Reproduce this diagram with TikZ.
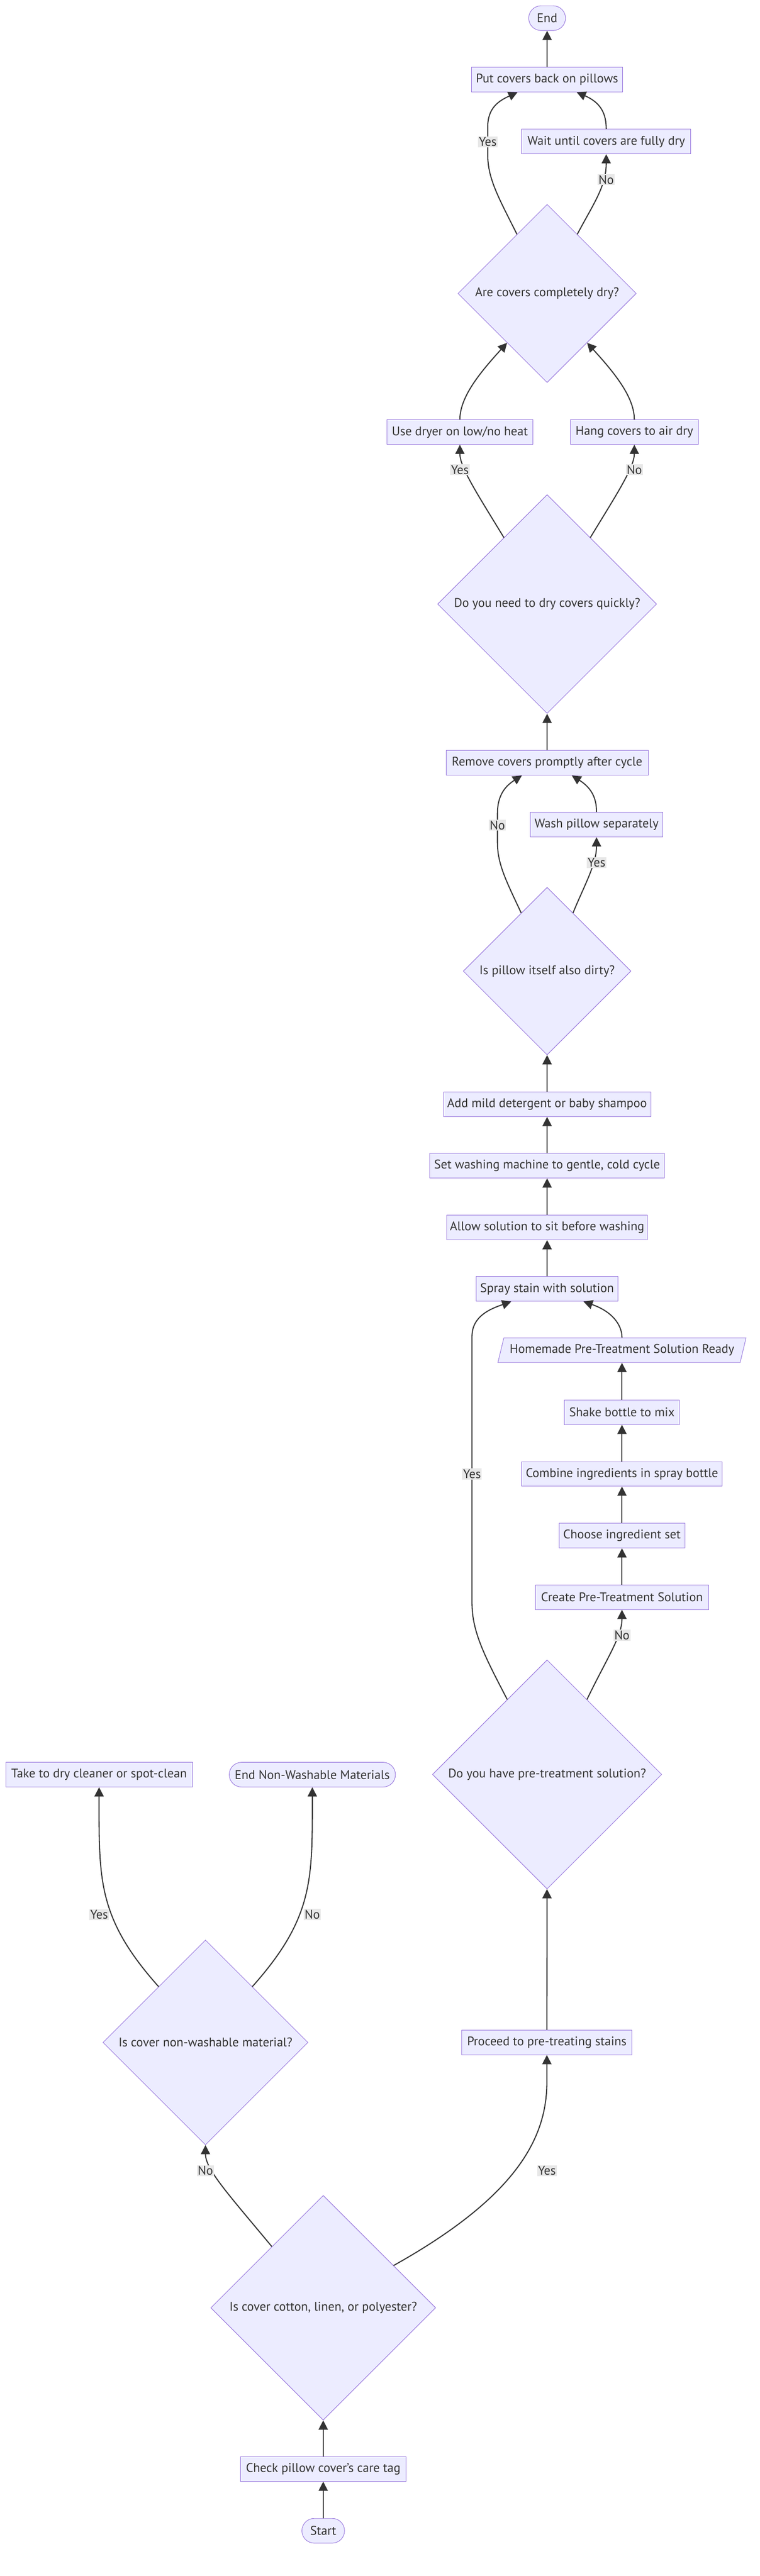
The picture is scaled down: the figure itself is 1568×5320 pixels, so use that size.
\documentclass[tikz,border=0pt]{standalone}
\usepackage{fontspec}
\setmainfont{PT Sans}
\usetikzlibrary{shapes.geometric,arrows.meta,calc}
\definecolor{nodefill}{HTML}{ECECFF}
\definecolor{nodeline}{HTML}{9370DB}
\definecolor{ink}{HTML}{333333}
\definecolor{lblbg}{HTML}{E8E8E8}

\begin{document}
\begin{tikzpicture}[x=0.5pt, y=0.5pt,
    every node/.style={text=ink, font=\fontsize{13}{15}\selectfont},
    proc/.style={rectangle, draw=nodeline, fill=nodefill, line width=0.5pt, minimum height=25.5pt, inner sep=0pt},
    term/.style={proc, rounded corners=12.75pt},
    ask/.style={diamond, aspect=1, draw=nodeline, fill=nodefill, line width=0.5pt, inner sep=0pt},
    io/.style={trapezium, trapezium left angle=64, trapezium right angle=116, trapezium stretches=true, draw=nodeline, fill=nodefill, line width=0.5pt, minimum height=25.5pt, inner sep=0pt},
    lbl/.style={fill=lblbg, inner sep=1pt},
    conn/.style={draw=ink, line width=1.1pt, -{Triangle[length=9.5pt,width=9.5pt]}}]
    \fill[white] (0,0) rectangle (1568,-5320);
    % drying part
    \node[term, minimum width=38pt] (endn) at (1129,-37.5) {End};
    \node[proc, minimum width=156pt] (putback) at (1129,-164.5) {Put covers back on pillows};
    \node[proc, minimum width=174.5pt] (waitdry) at (1251,-292.5) {Wait until covers are fully dry};
    \node[ask, minimum size=184pt] (dryq) at (1129,-606) {Are covers completely dry?};
    \node[proc, minimum width=151pt] (dryer) at (949,-892.5) {Use dryer on low/no heat};
    \node[proc, minimum width=132pt] (hang) at (1309,-892.5) {Hang covers to air dry};
    \node[ask, minimum size=226pt] (quickq) at (1129,-1247.5) {Do you need to dry covers quickly?};
    % washing part
    \node[proc, minimum width=208.5pt] (remove) at (1129,-1575.5) {Remove covers promptly after cycle};
    \node[proc, minimum width=137pt] (washp) at (1231,-1703) {Wash pillow separately};
    \node[ask, minimum size=173pt] (dirtyq) at (1129,-2005.5) {Is pillow itself also dirty?};
    \node[proc, minimum width=214pt] (detergent) at (1129,-2280.5) {Add mild detergent or baby shampoo};
    \node[proc, minimum width=242pt] (setmach) at (1129,-2407.5) {Set washing machine to gentle, cold cycle};
    \node[proc, minimum width=207pt] (allow) at (1129,-2535) {Allow solution to sit before washing};
    \node[proc, minimum width=146pt] (spray) at (1129,-2662) {Spray stain with solution};
    % pre-treatment part
    \node[io, minimum width=256.5pt] (ready) at (1283.5,-2788.5) {Homemade Pre-Treatment Solution Ready};
    \node[proc, minimum width=118.5pt] (shake) at (1283.5,-2916.5) {Shake bottle to mix};
    \node[proc, minimum width=207pt] (combine) at (1283.5,-3044) {Combine ingredients in spray bottle};
    \node[proc, minimum width=130pt] (choose) at (1283.5,-3171.5) {Choose ingredient set};
    \node[proc, minimum width=178.5pt] (create) at (1283.5,-3298.5) {Create Pre-Treatment Solution};
    \node[ask, minimum size=236.5pt] (haveq) at (1129,-3664.5) {Do you have pre-treatment solution?};
    % material check
    \node[proc, minimum width=192.5pt] (dryclean) at (204.5,-3665) {Take to dry cleaner or spot-clean};
    \node[term, minimum width=171.5pt] (endnw) at (644.5,-3665) {End Non-Washable Materials};
    \node[ask, minimum size=211.5pt] (nonwashq) at (424,-4218) {Is cover non-washable material?};
    \node[proc, minimum width=175.5pt] (proceed) at (1128.5,-4218) {Proceed to pre-treating stains};
    \node[ask, minimum size=232pt] (fabricq) at (667,-4766) {Is cover cotton, linen, or polyester?};
    \node[proc, minimum width=170.5pt] (checktag) at (667,-5099) {Check pillow cover's care tag};
    \node[term, minimum width=44pt] (start) at (667,-5226.5) {Start};

    % connectors
    \draw[conn] (start) -- (checktag);
    \draw[conn] (checktag) -- (fabricq);
    \draw[conn] (fabricq.130) .. controls (470,-4530) and (424,-4480) .. (nonwashq.south);
    \draw[conn] (fabricq.31) .. controls (1060,-4540) and (1128.5,-4420) .. (1128.5,-4300) -- (proceed.south);
    \draw[conn] (nonwashq.130) .. controls (200,-3960) and (204.5,-3880) .. (dryclean.south);
    \draw[conn] (nonwashq.50) .. controls (648,-3960) and (644.5,-3880) .. (endnw.south);
    \draw[conn] (proceed) -- (haveq);
    \draw[conn] (haveq.118) .. controls (1000,-3420) and (974,-3370) .. (974,-3310) -- (974,-2760) .. controls (974,-2718) and (1012,-2703) .. ($(spray.south)+(-74,0)$);
    \draw[conn] (haveq.62) .. controls (1252,-3425) and (1283.5,-3380) .. (create.south);
    \draw[conn] (create) -- (choose);
    \draw[conn] (choose) -- (combine);
    \draw[conn] (combine) -- (shake);
    \draw[conn] (shake) -- (ready);
    \draw[conn] (ready.north) .. controls (1283.5,-2735) and (1262,-2708) .. ($(spray.south)+(75,0)$);
    \draw[conn] (spray) -- (allow);
    \draw[conn] (allow) -- (setmach);
    \draw[conn] (setmach) -- (detergent);
    \draw[conn] (detergent) -- (dirtyq);
    \draw[conn] (dirtyq.114) .. controls (1045,-1820) and (1026.5,-1785) .. (1026.5,-1740) -- (1026.5,-1680) .. controls (1026.5,-1640) and (1045,-1622) .. ($(remove.south)+(-52,0)$);
    \draw[conn] (dirtyq.66) .. controls (1205,-1830) and (1231,-1785) .. (washp.south);
    \draw[conn] (washp.north) .. controls (1231,-1650) and (1222,-1628) .. ($(remove.south)+(51,0)$);
    \draw[conn] (remove) -- (quickq);
    \draw[conn] (quickq.123) .. controls (985,-1020) and (949,-965) .. (dryer.south);
    \draw[conn] (quickq.57) .. controls (1273,-1020) and (1309,-965) .. (hang.south);
    \draw[conn] (dryer.north) .. controls (949,-820) and (990,-770) .. (dryq.231);
    \draw[conn] (hang.north) .. controls (1309,-820) and (1268,-770) .. (dryq.309);
    \draw[conn] (dryq.117) .. controls (1030,-410) and (1006.5,-370) .. (1006.5,-320) -- (1006.5,-262) .. controls (1006.5,-222) and (1030,-208) .. ($(putback.south)+(-61,0)$);
    \draw[conn] (dryq.63) .. controls (1225,-420) and (1251,-385) .. (waitdry.south);
    \draw[conn] (waitdry.north) .. controls (1251,-235) and (1240,-212) .. ($(putback.south)+(61,0)$);
    \draw[conn] (putback) -- (endn);

    % edge labels
    \node[lbl] (nofabric) at (424,-4483) {No};
    \node[lbl] (yesfabric) at (1128.5,-4483) {Yes};
    \node[lbl] (yesnonwash) at (204.5,-3954) {Yes};
    \node[lbl] (nononwash) at (644.5,-3954) {No};
    \node[lbl] (yeshave) at (974,-3044) {Yes};
    \node[lbl] (nohave) at (1283.5,-3377) {No};
    \node[lbl] (nodirty) at (1026.5,-1704) {No};
    \node[lbl] (yesdirty) at (1231,-1781.5) {Yes};
    \node[lbl] (yesquick) at (949,-970) {Yes};
    \node[lbl] (noquick) at (1309,-970) {No};
    \node[lbl] (yesdry) at (1006.5,-293) {Yes};
    \node[lbl] (nodry) at (1251,-371) {No};
\end{tikzpicture}
\end{document}
